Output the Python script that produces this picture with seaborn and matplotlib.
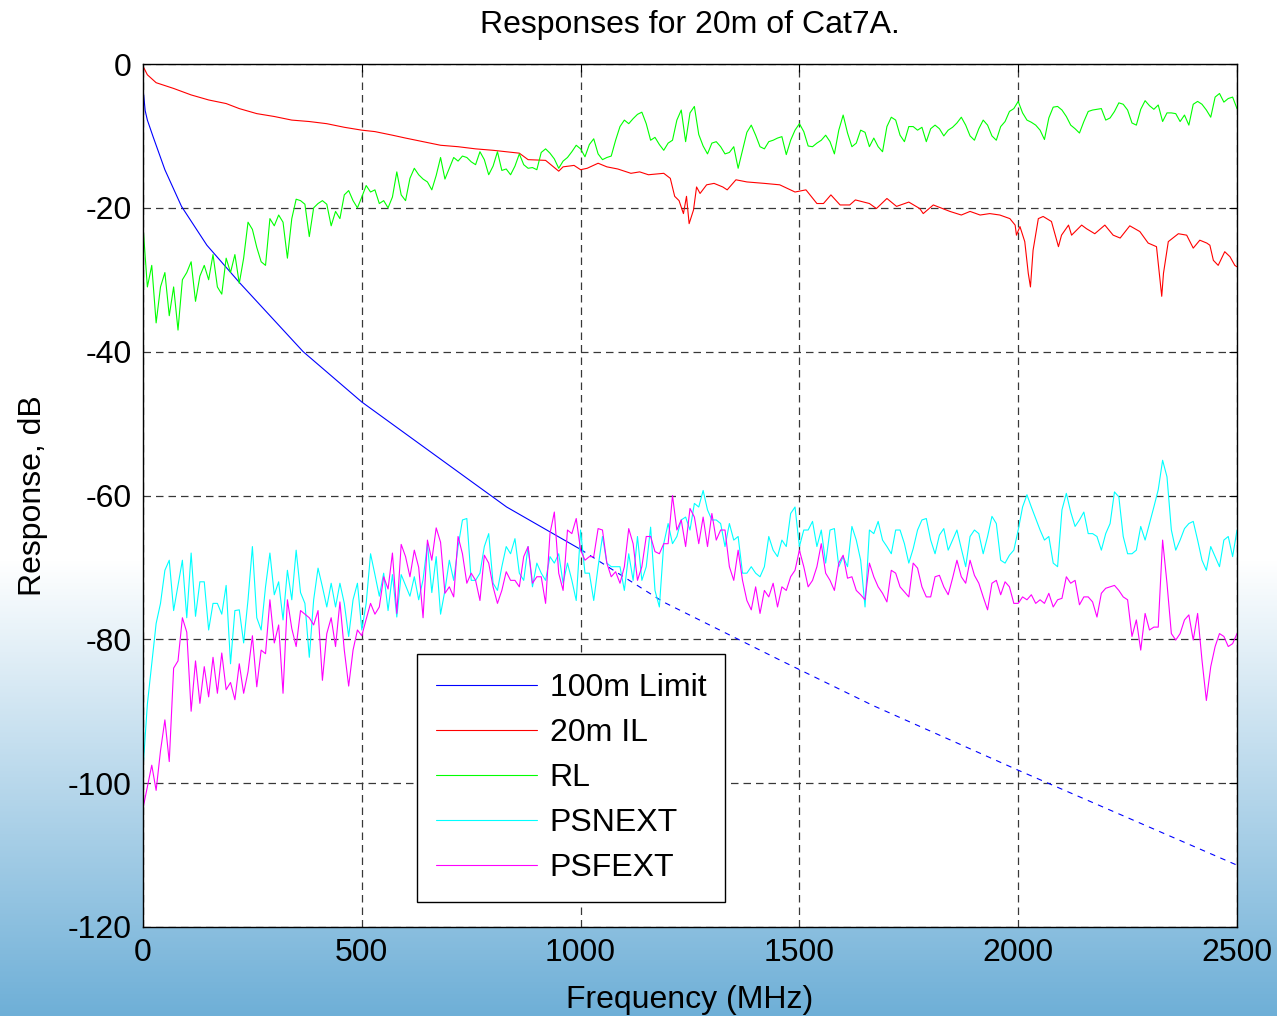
import numpy as np
import matplotlib
matplotlib.use("Agg")
import matplotlib.pyplot as plt
import seaborn as sns

# ---------------- data ----------------
freq_mhz = np.arange(0, 2501, 10)  # sampling grid of the measured traces

rl_db = [
    -22.5, -31, -28, -36, -31, -29, -35, -31, -37, -30,
    -29, -27.5, -33, -29.5, -28, -30, -26.5, -31, -32, -27,
    -29, -26.5, -30.5, -27, -22, -23, -25.5, -27.5, -28, -21.5,
    -22.5, -21, -22, -27, -21.5, -18.8, -19, -19.5, -24, -20,
    -19.4, -19, -19.5, -22.5, -20.5, -21.5, -18.2, -17.6, -19, -20,
    -18.5, -16.9, -17.8, -17.5, -19.4, -19, -20, -18.5, -15, -18.2,
    -19, -15.9, -14.5, -15.4, -16, -16.4, -17.5, -15.5, -13, -16,
    -14.5, -13, -13.5, -12.8, -13, -13.6, -14, -12.2, -13.3, -15.4,
    -14.2, -12.2, -14.8, -14.6, -15.4, -14.2, -12.5, -14, -14.5, -14.4,
    -14.7, -12.3, -11.8, -12.4, -13.2, -14.5, -13.5, -13, -12.2, -11.3,
    -11.8, -12.9, -11.2, -10.4, -12.5, -13.3, -13, -12.8, -10.6, -8.7,
    -7.8, -8.3, -7.6, -7, -6.7, -8.3, -10.6, -10.2, -11.2, -12,
    -11, -10.6, -7.8, -6.4, -10.8, -6.8, -5.9, -9.8, -11.4, -12.5,
    -11, -10.8, -11.5, -12.5, -12.3, -11.5, -14.5, -12, -9.5, -8.5,
    -9.9, -11.5, -11.8, -10.8, -10.6, -10.3, -10.1, -12.6, -10.6, -9.2,
    -8.3, -9.4, -11.4, -11.5, -11, -10.6, -9.9, -10.8, -12.5, -9.2,
    -7.1, -9.6, -11.5, -11, -9.2, -9.5, -11.5, -10.3, -11.5, -12.2,
    -8.7, -7.4, -7.8, -9.9, -10.8, -8.7, -8.7, -9.2, -8.8, -10.8,
    -9, -8.5, -9, -10, -9.2, -8.8, -8.2, -7.4, -8.5, -10,
    -10.6, -9, -7.8, -8.5, -10, -10.6, -8.7, -8, -6.6, -6.2,
    -5.2, -6.8, -7.8, -8.1, -8.5, -9.2, -10.5, -7.5, -6, -5.9,
    -6.4, -7.3, -8.5, -9, -9.6, -8, -6.6, -6.4, -6.3, -6.2,
    -7.8, -7.5, -6.6, -5.4, -5.6, -6.4, -8.2, -8.5, -6.3, -5.1,
    -5.8, -6.3, -5.7, -8, -6.8, -6.8, -6.9, -8, -7.1, -8.5,
    -5.6, -5.2, -5.6, -6.4, -7.4, -4.6, -4.1, -5.3, -4.8, -4.6,
    -6.2,
]

psnext_db = [
    -98, -89, -83.4, -77.8, -75, -70.4, -69, -76, -72.5, -69,
    -77, -68, -76.8, -72, -72, -78.7, -75, -75, -76.5, -72.5,
    -83.4, -76, -75.9, -80.5, -74.5, -67.1, -77, -78.7, -72.7, -68,
    -73.8, -72, -77.3, -70.4, -74.5, -67.6, -73.5, -75, -82.5, -74.5,
    -70.1, -72.7, -75.5, -72.2, -75.5, -72.2, -75, -79.6, -74.5, -72.2,
    -78.7, -75, -68.1, -71, -74, -70.8, -76, -71, -76.9, -71,
    -72.5, -74, -71.3, -74.5, -71.7, -66.7, -73.5, -68.5, -76.5, -73.2,
    -69, -71.8, -67.1, -63.4, -63.2, -71.8, -71.8, -70.8, -67.1, -65.3,
    -72.2, -73.2, -69.9, -67.1, -68.1, -66, -70.8, -71.8, -67.1, -72.7,
    -69.4, -70.8, -71.8, -68.5, -69.4, -68.1, -72.2, -69.4, -71.8, -74.6,
    -64.8, -70.8, -70.8, -74.6, -69.9, -65.7, -69.4, -69.9, -69.9, -69.9,
    -73.2, -68.1, -71.8, -65.7, -71.8, -69.9, -64.4, -73.2, -75.5, -66.7,
    -63.9, -66.7, -65.7, -63.4, -63, -64.8, -61.1, -61.6, -59.3, -62,
    -63.4, -63.4, -63.9, -67.1, -63.9, -66.2, -65.7, -70.8, -70.8, -69.9,
    -70.8, -71.3, -69.9, -65.7, -67.6, -68.5, -66.2, -67.1, -62.5, -61.6,
    -67.1, -64.8, -64.8, -63.6, -67.1, -64.8, -69.4, -64.8, -64.6, -69.9,
    -68.5, -69.9, -64.3, -66.2, -69, -75.5, -64.8, -65.3, -63.6, -66.2,
    -67.1, -68.1, -64.8, -64.8, -66.7, -69.4, -67.4, -64.8, -63.4, -63.2,
    -66.2, -68.1, -65.5, -64.6, -67.6, -66.2, -64.8, -67.4, -69.9, -65.7,
    -64.8, -65.3, -68.1, -65.7, -62.9, -63.9, -69, -69.4, -68.3, -67.6,
    -64.8, -61.6, -59.9, -61.6, -63.2, -64.8, -66.2, -65.7, -69.4, -69.9,
    -62, -59.7, -62.3, -64.3, -63.4, -62.3, -65.3, -65.3, -65.7, -67.6,
    -65.3, -63.9, -59.5, -60.2, -65.7, -68.1, -68.1, -67.6, -64.3, -66.2,
    -63.9, -61.6, -59.2, -55.1, -57.4, -64.8, -67.6, -66.2, -64.6, -63.9,
    -63.6, -66.2, -69, -70.4, -67.1, -68.5, -69.9, -66.2, -65.7, -68.5,
    -64.8,
]

psfext_db = [
    -103.5, -100.5, -97.5, -101, -95.5, -91.2, -97, -84, -83, -77,
    -79, -90, -83, -88.9, -83.8, -88, -82.5, -87.5, -81.9, -87,
    -86, -88.4, -83.4, -87.5, -84.5, -79.5, -86.6, -81.5, -82, -74.5,
    -80.5, -78, -87.5, -74.5, -78.5, -81, -76, -76.5, -77, -78,
    -76, -85.7, -79.2, -77, -81, -74.8, -81.5, -86.5, -81.5, -78.7,
    -79.5, -77.2, -75, -76.5, -75.5, -71.3, -73, -68, -76.4, -66.8,
    -68.5, -71.3, -67.6, -70, -77, -66.2, -69, -64.5, -66.5, -73.6,
    -72.7, -74.1, -65.7, -68.1, -72.2, -70.8, -71.8, -74.6, -68.3, -69.4,
    -72.7, -75, -73.2, -70.6, -71.8, -71.8, -72.7, -68.5, -67.1, -72.2,
    -71.3, -71.3, -75, -65.3, -62.3, -70.8, -73.2, -64.8, -65.3, -63.2,
    -67.6, -69, -68.5, -68.5, -64.6, -64.8, -69.4, -71.3, -70.6, -72.2,
    -69.9, -64.6, -66.7, -71.8, -69.9, -65.7, -65.7, -67.8, -68.1, -66.7,
    -66.7, -60, -64.8, -63.4, -67.1, -61.8, -63, -66.7, -63, -67.1,
    -62.5, -66.2, -64.8, -64.8, -69.9, -71.8, -67.6, -71.8, -74.6, -75.9,
    -72.7, -76.4, -73.2, -74.1, -72.2, -75.5, -72.7, -73.2, -71.3, -70.4,
    -67.6, -69.9, -72.7, -71.8, -69.9, -66.7, -70.8, -71.8, -73.2, -69.4,
    -68.3, -71.5, -71.3, -73.2, -73.8, -74.5, -69.4, -71.3, -72.7, -73.6,
    -74.8, -70.4, -70.8, -72.7, -73.4, -74.1, -69.4, -70.1, -72.7, -74.1,
    -74.1, -71.3, -71.1, -72.7, -73.8, -71.5, -69, -71.3, -72.2, -69,
    -71.1, -72.2, -74.1, -75.9, -72.2, -71.8, -73.8, -72, -72.7, -75,
    -75, -74.1, -74.5, -73.8, -75, -74.5, -75, -73.6, -75.5, -74.5,
    -74.3, -71.3, -72.2, -71.8, -75.2, -74.1, -74.1, -74.8, -76.9, -73.6,
    -72.9, -72.7, -72.5, -73.2, -74.1, -74.5, -79.6, -77.3, -81.5, -76.4,
    -78.7, -78.3, -78.3, -66.2, -72.2, -79.2, -80.1, -79.2, -77.3, -76.6,
    -80.1, -76.4, -82.9, -88.5, -83.8, -81, -79.2, -79.6, -81, -80.6,
    -79.2,
]

il_freq = [0, 10, 30, 70, 110, 150, 190, 220, 260, 300, 340, 380, 420, 460, 500,
           530, 570, 600, 640, 680, 720, 760, 800, 830, 860, 880, 920, 950, 960,
           985, 1000, 1015, 1040, 1060, 1085, 1115, 1135, 1155, 1190, 1205, 1215,
           1225, 1235, 1242, 1248, 1258, 1265, 1273, 1288, 1305, 1325, 1335, 1355,
           1380, 1420, 1455, 1490, 1515, 1540, 1555, 1572, 1593, 1615, 1628, 1660,
           1676, 1700, 1722, 1750, 1775, 1783, 1806, 1844, 1870, 1890, 1913, 1935,
           1958, 1981, 1993, 1996, 2004, 2015, 2023, 2028, 2034, 2046, 2057, 2076,
           2092, 2099, 2115, 2122, 2145, 2156, 2175, 2198, 2217, 2233, 2255, 2278,
           2297, 2316, 2324, 2328, 2332, 2343, 2366, 2385, 2400, 2415, 2431, 2438,
           2446, 2457, 2472, 2484, 2495, 2500]
il_db = [-0.3, -1.5, -2.6, -3.4, -4.3, -5.0, -5.5, -6.2, -6.9, -7.3, -7.8, -8.0, -8.3,
         -8.8, -9.2, -9.4, -9.9, -10.3, -10.8, -11.3, -11.5, -11.8, -12.0, -12.2,
         -12.4, -13.3, -13.4, -14.9, -14.3, -14.1, -14.7, -14.5, -13.8, -14.3,
         -14.6, -15.2, -15.0, -15.4, -15.2, -15.9, -18.4, -19.0, -20.8, -18.4,
         -22.2, -20.3, -17.1, -18.0, -16.8, -16.6, -17.1, -17.5, -16.1, -16.4,
         -16.6, -16.8, -17.8, -17.5, -19.4, -19.4, -18.2, -19.6, -19.6, -18.9,
         -19.4, -20.1, -18.7, -19.8, -19.2, -20.1, -20.8, -19.6, -20.5, -21.0,
         -20.5, -21.0, -20.8, -21.0, -21.5, -22.4, -23.8, -22.6, -24.7, -29.1,
         -31.0, -25.9, -21.5, -21.2, -21.9, -25.4, -23.8, -22.4, -23.8, -22.4,
         -22.9, -23.6, -22.4, -23.8, -24.2, -22.5, -23.3, -24.9, -25.4, -30.0,
         -32.3, -29.1, -24.7, -23.6, -23.8, -25.6, -24.5, -24.9, -25.2, -27.3,
         -28.0, -26.1, -26.8, -28.0, -28.2]

# 100 m limit: specified part (solid) and extrapolated part (dashed)
limit_freq = [0, 1, 5, 10, 23, 50, 88, 146, 222, 366, 500, 747, 831, 1000]
limit_db = [-1.0, -4.0, -6.5, -7.8, -10.1, -14.7, -19.8, -25.2, -30.5, -40.0,
            -47.0, -57.9, -61.6, -67.5]
limit_ext_freq = [1000, 1189, 1456, 1668, 2000, 2500]
limit_ext_db = [-67.5, -74.8, -82.9, -89.2, -98.2, -111.4]

series_labels = ["100m Limit", "20m IL", "RL", "PSNEXT", "PSFEXT"]
x_ticks = [0, 500, 1000, 1500, 2000, 2500]
y_ticks = [-120, -100, -80, -60, -40, -20, 0]

# ---------------- styling ----------------
sns.set_style("white")
plt.rcParams["font.family"] = ["Liberation Sans", "DejaVu Sans"]
for key in ("text.color", "axes.labelcolor", "xtick.color", "ytick.color"):
    plt.rcParams[key] = "black"
FS = 23

W, H = 1277, 1016
fig = plt.figure(figsize=(W / 100, H / 100), dpi=100)
fig.patch.set_facecolor("white")

# background gradient (white -> light blue towards the bottom)
rows = np.arange(H)
t = np.clip((rows - 560) / (H - 560), 0, 1)[:, None]
top_c = np.array([1.0, 1.0, 1.0])
bot_c = np.array([110, 175, 215]) / 255.0
grad = (top_c * (1 - t) + bot_c * t)[:, None, :]
bg = fig.add_axes([0, 0, 1, 1], zorder=-10)
bg.imshow(grad, aspect="auto", extent=[0, 1, 0, 1])
bg.axis("off")

ax = fig.add_axes([143 / W, 1 - 927 / H, (1237 - 143) / W, (927 - 64) / H], zorder=1)
ax.set_facecolor("white")

lw = 0.8
sns.lineplot(x=limit_freq, y=limit_db, ax=ax, color="#0000ff", linewidth=lw,
             label=series_labels[0], estimator=None, sort=False)
sns.lineplot(x=limit_ext_freq, y=limit_ext_db, ax=ax, color="#0000ff", linewidth=lw,
             linestyle=(0, (5, 5)), estimator=None, sort=False)
sns.lineplot(x=il_freq, y=il_db, ax=ax, color="#ff0000", linewidth=lw,
             label=series_labels[1], estimator=None, sort=False)
sns.lineplot(x=freq_mhz, y=rl_db, ax=ax, color="#00ff00", linewidth=lw,
             label=series_labels[2], estimator=None, sort=False)
sns.lineplot(x=freq_mhz, y=psnext_db, ax=ax, color="#00ffff", linewidth=lw,
             label=series_labels[3], estimator=None, sort=False)
sns.lineplot(x=freq_mhz, y=psfext_db, ax=ax, color="#ff00ff", linewidth=lw,
             label=series_labels[4], estimator=None, sort=False)

ax.set_xlim(0, 2500)
ax.set_ylim(-120, 0)
ax.set_xticks(x_ticks)
ax.set_yticks(y_ticks)
ax.set_xticklabels([str(v) for v in x_ticks], fontsize=FS)
ax.set_yticklabels([str(v) for v in y_ticks], fontsize=FS)
ax.tick_params(direction="in", top=True, right=True, length=6, width=0.8,
               colors="black", pad=8)

ax.grid(True, color="#383838", linestyle=(0, (6, 4)), linewidth=0.9)
ax.set_axisbelow(True)
for s in ax.spines.values():
    s.set_color("black")
    s.set_linewidth(1.0)

ax.set_title("Responses for 20m of Cat7A.", fontsize=FS, pad=22, color="black")
ax.set_xlabel("Frequency (MHz)", fontsize=FS, labelpad=12)
ax.set_ylabel("Response, dB", fontsize=FS, labelpad=14)

handles, labels = ax.get_legend_handles_labels()
leg = ax.legend(handles, labels, loc="lower left", bbox_to_anchor=(0.2505, 0.029),
                borderaxespad=0, fontsize=FS, frameon=True, fancybox=False,
                edgecolor="black", framealpha=1, handlelength=3.15,
                handletextpad=0.4, labelspacing=0.47, borderpad=0.6)
leg.get_frame().set_linewidth(1.0)

fig.savefig("out.png", dpi=100)
